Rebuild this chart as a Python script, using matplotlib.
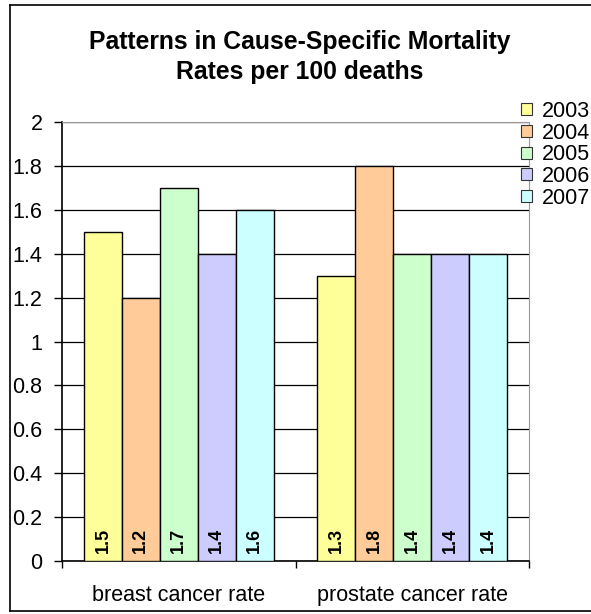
import numpy as np
import matplotlib.pyplot as plt
from matplotlib.lines import Line2D
from matplotlib.patches import Patch

plt.rcParams['font.family'] = ['Liberation Sans', 'DejaVu Sans']

categories = ['breast cancer rate', 'prostate cancer rate']
years = ['2003', '2004', '2005', '2006', '2007']
rates = {
    '2003': [1.5, 1.3],
    '2004': [1.2, 1.8],
    '2005': [1.7, 1.4],
    '2006': [1.4, 1.4],
    '2007': [1.6, 1.4],
}
colors = ['#FFFF99', '#FFCC99', '#CCFFCC', '#CCCCFF', '#CCFFFF']
yticks = [0, 0.2, 0.4, 0.6, 0.8, 1, 1.2, 1.4, 1.6, 1.8, 2]

fig = plt.figure(figsize=(5.91, 6.14), dpi=100)
ax = fig.add_axes([62 / 591, 1 - 561 / 614, (529 - 62) / 591, (561 - 122) / 614])

x = np.arange(len(categories))
w = 38 / 234
for i, yr in enumerate(years):
    pos = x + (i - 2) * w
    bars = ax.bar(pos, rates[yr], width=w, color=colors[i], edgecolor='black',
                  linewidth=1.0, label=yr, zorder=3)
    for b, v in zip(bars, rates[yr]):
        ax.text(b.get_x() + b.get_width() / 2, 0.035, f'{v:g}', rotation=90,
                ha='center', va='bottom', fontsize=13, fontweight='bold', zorder=4)

ax.set_xlim(-0.5, 1.5)
ax.set_ylim(0, 2)
ax.set_yticks(yticks)
ax.set_yticklabels([f'{t:g}' for t in yticks], fontsize=15.5)
ax.yaxis.grid(True, color='black', linewidth=0.9, zorder=0)
ax.set_axisbelow(True)

# category boundaries as ticks, names in between
ax.set_xticks([-0.5, 0.5, 1.5])
ax.set_xticklabels(['', '', ''])
ax.set_xticks(x, minor=True)
ax.set_xticklabels(categories, minor=True, fontsize=15.5)
ax.tick_params(axis='x', which='minor', length=0, pad=17)
ax.tick_params(axis='x', which='major', length=5, width=1, color='black', direction='out')
ax.tick_params(axis='y', length=6, width=1, direction='out', pad=8)

ax.spines['left'].set_color('black')
ax.spines['bottom'].set_color('black')
ax.spines['left'].set_linewidth(1.2)
ax.spines['bottom'].set_linewidth(1.2)
ax.spines['top'].set_color('#999999')
ax.spines['right'].set_color('#999999')

fig.text(300 / 591, 1 - 57 / 614, 'Patterns in Cause-Specific Mortality\nRates per 100 deaths',
         ha='center', va='center', fontsize=17.8, fontweight='bold', linespacing=1.32)

handles = [Patch(facecolor=c, edgecolor='#333333', linewidth=0.8) for c in colors]
fig.legend(handles, years, loc='upper left', bbox_to_anchor=(521 / 591, 1 - 101 / 614),
           frameon=False, fontsize=15.5, handlelength=0.5, handleheight=0.5,
           handletextpad=0.45, labelspacing=0.03, borderpad=0, borderaxespad=0)

# outer chart border
for xs, ys in [([10, 10], [5, 611]), ([10, 600], [5, 5]), ([10, 600], [611, 611])]:
    fig.add_artist(Line2D([v / 591 for v in xs], [1 - v / 614 for v in ys],
                          color='black', linewidth=1.2))

fig.savefig('out.png', dpi=100)
